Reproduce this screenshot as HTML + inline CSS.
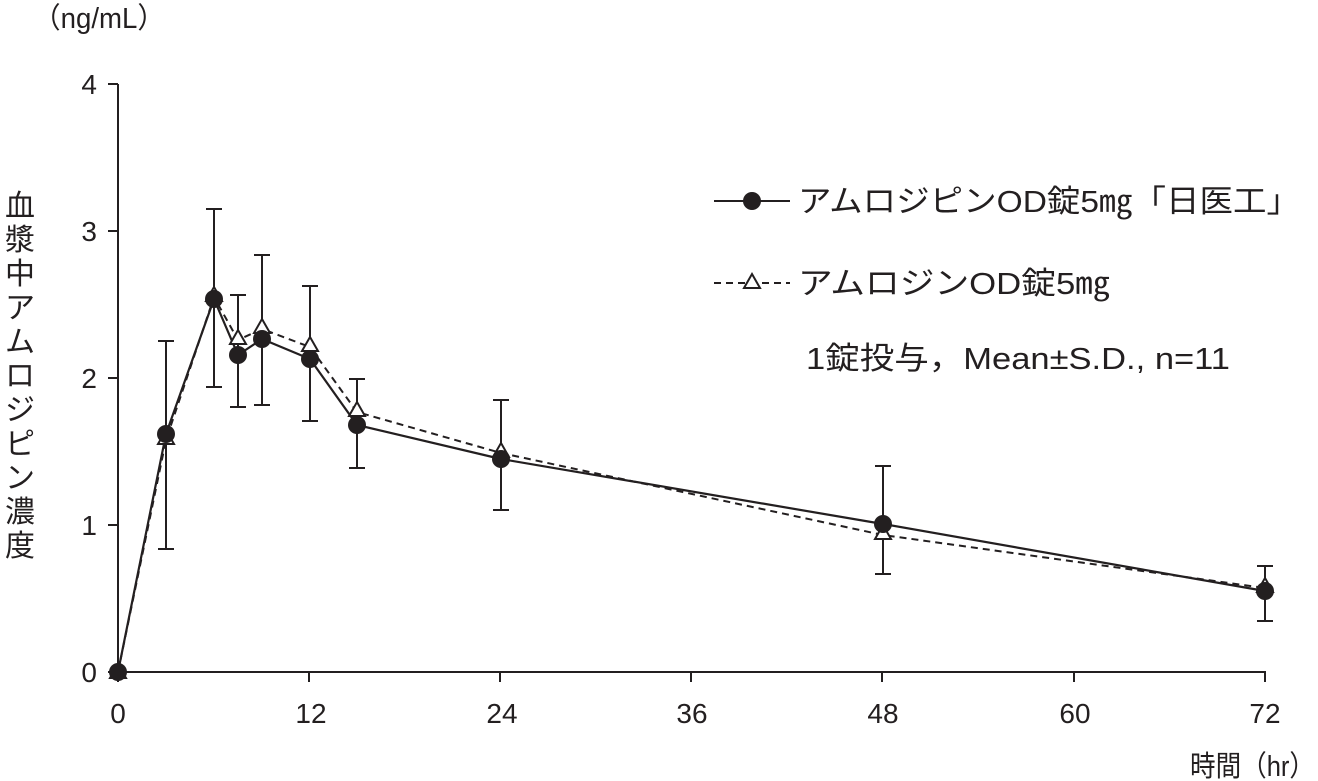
<!DOCTYPE html>
<html><head><meta charset="utf-8"><style>body{margin:0;background:#fff}svg{display:block}text{font-family:"Liberation Sans","Noto Sans CJK JP",sans-serif;fill:#231f20}</style></head><body>
<svg width="1318" height="781" viewBox="0 0 1318 781" xmlns="http://www.w3.org/2000/svg">
<g stroke="#231f20" stroke-width="2" fill="none">
<line x1="118" y1="84" x2="118" y2="673"/>
<line x1="117" y1="672" x2="1266" y2="672"/>
<line x1="108" y1="84" x2="118" y2="84"/><line x1="108" y1="231" x2="118" y2="231"/><line x1="108" y1="378" x2="118" y2="378"/><line x1="108" y1="525" x2="118" y2="525"/><line x1="108" y1="672" x2="118" y2="672"/>
<line x1="118" y1="672" x2="118" y2="682"/><line x1="309" y1="672" x2="309" y2="682"/><line x1="500" y1="672" x2="500" y2="682"/><line x1="691" y1="672" x2="691" y2="682"/><line x1="882" y1="672" x2="882" y2="682"/><line x1="1074" y1="672" x2="1074" y2="682"/><line x1="1265" y1="672" x2="1265" y2="682"/>
<path d="M166 549V341M158 549h16M158 341h16
M214 387V209M206 387h16M206 209h16
M238 407V295M230 407h16M230 295h16
M262 405V255M254 405h16M254 255h16
M310 421V286M302 421h16M302 286h16
M357 468V379M349 468h16M349 379h16
M501 510V400M493 510h16M493 400h16
M883 574V466M875 574h16M875 466h16
M1265 621V566M1257 621h16M1257 566h16"/>
<polyline stroke-dasharray="7,5" points="118,672 166,440 214,297 238,340 262,329 310,347 357,412 501,453 883,535 1265,588"/>
<polyline stroke-width="2.2" points="118,672 166,434 214,299 238,355 262,339 310,359 357,425 501,459 883,524 1265,591"/>
</g>
<g fill="#fff" stroke="#231f20" stroke-width="2">
<path d="M166 430l8 14h-16z"/><path d="M214 287l8 14h-16z"/><path d="M238 330l8 14h-16z"/><path d="M262 319l8 14h-16z"/><path d="M310 337l8 14h-16z"/><path d="M357 402l8 14h-16z"/><path d="M501 443l8 14h-16z"/><path d="M883 525l8 14h-16z"/><path d="M1265 578l8 14h-16z"/><path d="M118 664l8 14h-16z"/>
</g>
<g fill="#231f20">
<circle cx="118" cy="672" r="9"/><circle cx="166" cy="434" r="9"/><circle cx="214" cy="299" r="9"/><circle cx="238" cy="355" r="9"/><circle cx="262" cy="339" r="9"/><circle cx="310" cy="359" r="9"/><circle cx="357" cy="425" r="9"/><circle cx="501" cy="459" r="9"/><circle cx="883" cy="524" r="9"/><circle cx="1265" cy="591" r="9"/>
</g>
<g font-size="28" text-anchor="end">
<text x="97" y="94">4</text><text x="97" y="241">3</text><text x="97" y="388">2</text><text x="97" y="535">1</text><text x="97" y="682">0</text>
</g>
<g font-size="28" text-anchor="middle">
<text x="118" y="723">0</text><text x="311" y="723">12</text><text x="502" y="723">24</text><text x="692" y="723">36</text><text x="883" y="723">48</text><text x="1075" y="723">60</text><text x="1265" y="723">72</text>
</g>
<text x="33" y="28" font-size="29" textLength="132" lengthAdjust="spacingAndGlyphs">（ng/mL）</text>
<text x="1190" y="776" font-size="29" textLength="125" lengthAdjust="spacingAndGlyphs">時間（hr）</text>
<g font-size="30" text-anchor="middle">
<text x="20" y="216">血</text><text x="20" y="250">漿</text><text x="20" y="284">中</text><text x="20" y="318">ア</text><text x="20" y="352">ム</text><text x="20" y="386">ロ</text><text x="20" y="420">ジ</text><text x="20" y="454">ピ</text><text x="20" y="488">ン</text><text x="20" y="522">濃</text><text x="20" y="556">度</text>
</g>
<line x1="714" y1="201" x2="790" y2="201" stroke="#231f20" stroke-width="2"/>
<circle cx="752" cy="201" r="9" fill="#231f20"/>
<text x="798" y="212" font-size="31" textLength="502" lengthAdjust="spacingAndGlyphs">アムロジピンOD錠5㎎「日医工」</text>
<line x1="714" y1="283" x2="790" y2="283" stroke="#231f20" stroke-width="2" stroke-dasharray="7,5"/>
<path d="M752 274l8 14h-16z" fill="#fff" stroke="#231f20" stroke-width="2"/>
<text x="798" y="294" font-size="31" textLength="312" lengthAdjust="spacingAndGlyphs">アムロジンOD錠5㎎</text>
<text x="806" y="369" font-size="31" textLength="424" lengthAdjust="spacingAndGlyphs">1錠投与，Mean±S.D., n=11</text>
</svg>
</body></html>
